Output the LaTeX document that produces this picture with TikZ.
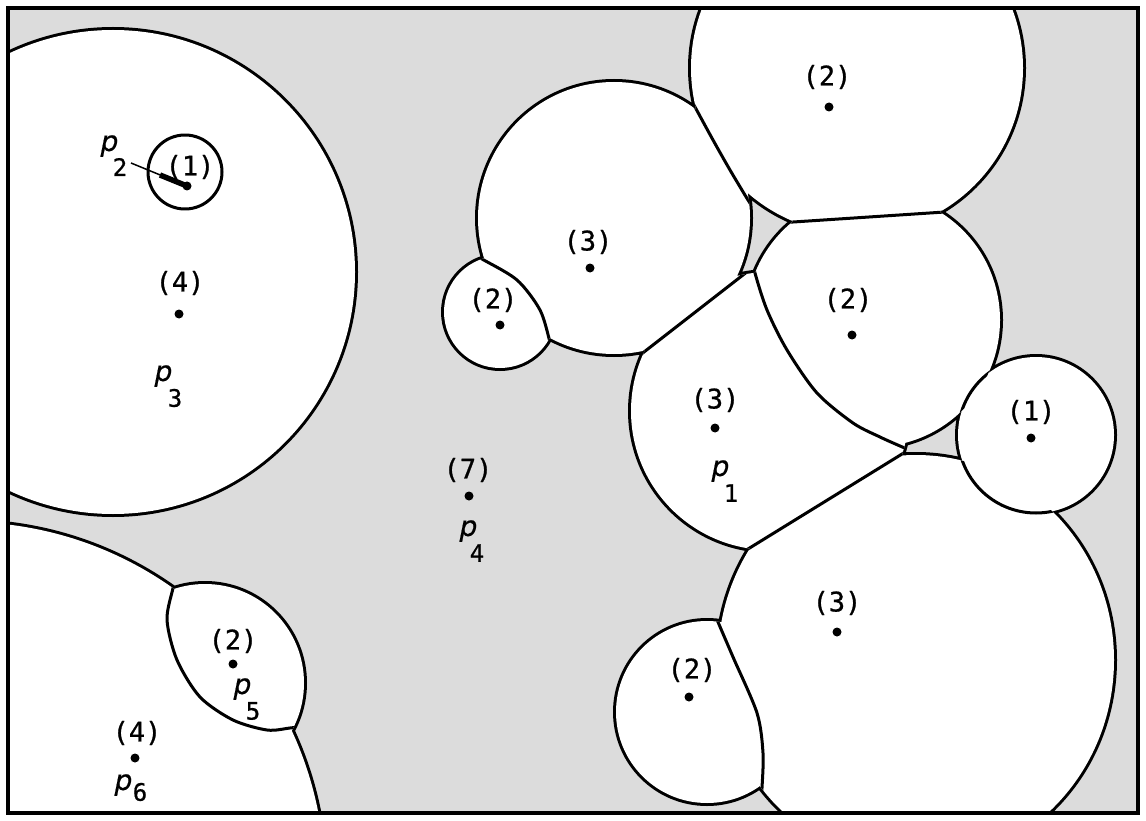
\documentclass[tikz,border=0pt]{standalone}
\usepackage{fontspec}
\newfontfamily\labfont{DejaVu Sans Mono}[FakeBold=0.8]
\newfontfamily\pfont{DejaVu Sans}[FakeSlant=0.2,FakeBold=0.6]
\definecolor{bg}{RGB}{220,220,220}
\tikzset{
  regions/.style={insert path={
    (113,272) circle[radius=242]
    (-35,882) circle[radius=360]
    (205,683) circle[radius=99]
    (500,312) circle[radius=56]
    (614,218) circle[radius=136]
    (857,68) circle[radius=166]
    (873,320) circle[radius=127]
    (770,411) circle[radius=139]
    (1036,435) circle[radius=78]
    (916,660) ellipse[x radius=198,y radius=205]
    (707,712) circle[radius=91]}},
  bnd/.style={line width=3pt, line join=round},
  outl/.style={line width=6pt},
  dotm/.style={circle, fill=black, inner sep=0pt, minimum size=9pt},
  num/.style={font=\labfont\fontsize{27}{31}\selectfont, inner sep=0pt},
  pp/.style={font=\pfont\fontsize{28}{32}\selectfont, inner sep=0pt},
  sb/.style={font=\labfont\fontsize{24}{28}\selectfont, inner sep=0pt}
}
\begin{document}
\begin{tikzpicture}[x=1pt,y=-1pt]
\useasboundingbox (0,0) rectangle (1146,821);
\fill[white] (0,0) rectangle (1146,821);
\begin{scope}
  \clip (8,8) rectangle (1138,813);
  \fill[bg] (8,8) rectangle (1138,813);
  \draw[outl, regions];
  \fill[white, regions];
  \begin{scope}
    \clip[regions];
    \draw[bnd] plot[smooth] coordinates {(176,572) (173,588) (167,620) (177,660) (200,697) (233,720) (267,730) (290,728) (305,726)};
    \draw[bnd] plot[smooth] coordinates {(470,252) (482,259) (517,280) (540,310) (550,342) (554,356)};
    \draw[bnd] plot[smooth] coordinates {(683,85) (695,107) (713,140) (730,170) (748,200) (758,215)};
    \draw[bnd] (635,359) -- (752,268);
    \draw[bnd] (778,223) -- (960,211);
    \draw[bnd] plot[smooth] coordinates {(752,255) (755,273) (767,310) (787,350) (817,393) (853,423) (880,437) (900,446) (914,452)};
    \draw[bnd] (735,557) -- (915,446);
    \draw[bnd] plot[smooth] coordinates {(712,607) (718,622) (733,657) (757,713) (763,753) (762,788) (761,800)};
  \end{scope}
  \begin{scope}
    \clip (873,320) circle[radius=127] (916,660) ellipse[x radius=198,y radius=205];
    \draw[bnd] (1036,435) circle[radius=78];
  \end{scope}
  \draw[bnd] (185,172) circle[radius=37];
\end{scope}
\draw[line width=3.2pt] (8,8) rectangle (1138,813);
% p2 / p3 region
\node[num] (n1) at (190,167) {(1)};
\node[dotm] (d1) at (187,186) {};
\node[pp] (pa) at (108,146) {p};
\node[sb] (sa) at (120,167) {2};
\coordinate (pa0) at (131,163);
\coordinate (pa1) at (160,175);
\draw[line width=1.5pt] (pa0) -- (d1.center);
\draw[line width=5.5pt] (pa1) -- (d1.center);
\node[num] (n4) at (180,283) {(4)};
\node[dotm] (d4) at (179,314) {};
\node[pp] (pb) at (162,376) {p};
\node[sb] (sbb) at (175,398) {3};
% p4
\node[num] (n7) at (468,470) {(7)};
\node[dotm] (d7) at (469,496) {};
\node[pp] (pc) at (467,531) {p};
\node[sb] (sc) at (477,553) {4};
% p5
\node[num] (n5) at (233,641) {(2)};
\node[dotm] (d5) at (233,664) {};
\node[pp] (pd) at (241,689) {p};
\node[sb] (sd) at (253,711) {5};
% p6
\node[num] (n6) at (137,733) {(4)};
\node[dotm] (d6) at (135,758) {};
\node[pp] (pe) at (122,785) {p};
\node[sb] (se) at (140,792) {6};
% right cluster
\node[num] (nD) at (493,300) {(2)};
\node[dotm] (dD) at (500,325) {};
\node[num] (nE) at (588,242) {(3)};
\node[dotm] (dE) at (590,268) {};
\node[num] (nF) at (827,77) {(2)};
\node[dotm] (dF) at (829,107) {};
\node[num] (nG) at (848,300) {(2)};
\node[dotm] (dG) at (852,335) {};
\node[num] (nH) at (715,400) {(3)};
\node[dotm] (dH) at (715,428) {};
\node[pp] (pf) at (719,471) {p};
\node[sb] (sf) at (731,493) {1};
\node[num] (nI) at (1031,412) {(1)};
\node[dotm] (dI) at (1031,438) {};
\node[num] (nJ) at (837,603) {(3)};
\node[dotm] (dJ) at (837,632) {};
\node[num] (nK) at (692,670) {(2)};
\node[dotm] (dK) at (689,697) {};
\end{tikzpicture}
\end{document}
